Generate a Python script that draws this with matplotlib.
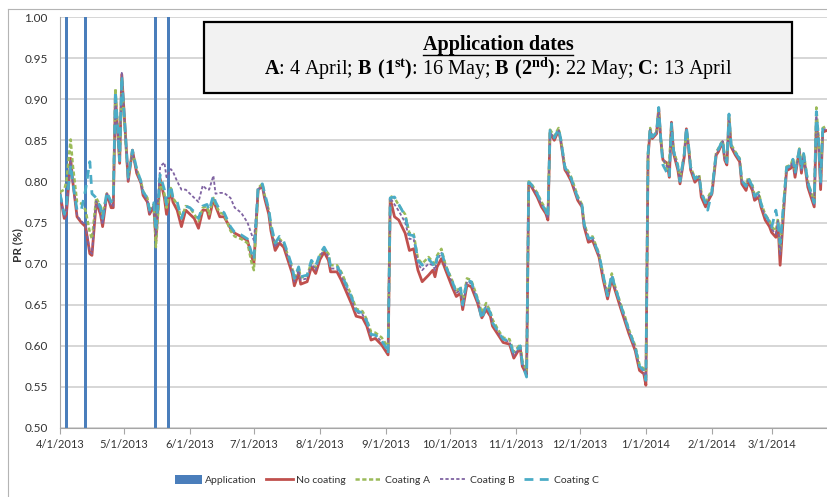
import numpy as np
import pandas as pd
import matplotlib
matplotlib.use("Agg")
import matplotlib.pyplot as plt
from matplotlib.patches import Rectangle
from matplotlib.lines import Line2D

plt.rcParams["font.family"] = ["Lato", "DejaVu Sans"]
plt.rcParams["mathtext.fontset"] = "custom"
plt.rcParams["mathtext.rm"] = "Liberation Serif"
plt.rcParams["mathtext.bf"] = "Liberation Serif:bold"

start = pd.Timestamp("2013-04-01")

# days since 1 April 2013
days = [
    0, 2, 3, 5, 6, 8, 10, 12, 14, 15,
    17, 19, 20, 22, 24, 25, 26, 28, 29, 31,
    32, 34, 36, 38, 39, 41, 42, 44, 45, 47,
    49, 50, 52, 53, 55, 57, 59, 61, 63, 65,
    67, 69, 70, 72, 73, 75, 77, 80, 82, 85,
    88, 90, 91, 93, 95, 96, 98, 99, 101, 103,
    105, 107, 109, 110, 112, 113, 116, 118, 120, 122,
    124, 126, 127, 130, 132, 134, 137, 139, 142, 144,
    146, 148, 151, 153, 154, 155, 157, 159, 162, 164,
    166, 168, 170, 173, 175, 176, 177, 179, 181, 184,
    186, 188, 189, 191, 193, 196, 198, 200, 202, 203,
    206, 208, 211, 213, 216, 217, 219, 220, 221, 224,
    226, 228, 229, 230, 232, 234, 235, 237, 238, 240,
    243, 245, 246, 248, 250, 253, 255, 257, 259, 260,
    263, 265, 267, 270, 272, 274, 275, 276, 277, 278,
    280, 281, 282, 283, 285, 286, 287, 288, 290, 291,
    293, 294, 295, 296, 298, 300, 301, 303, 304, 306,
    308, 309, 311, 312, 313, 314, 315, 317, 319, 320,
    322, 323, 325, 326, 328, 329, 331, 333, 334, 336,
    337, 338, 340, 341, 343, 344, 345, 347, 348, 349,
    351, 353, 354, 355, 356, 357, 358, 360,
]

no_coating = [
    0.785, 0.755, 0.760, 0.828, 0.800, 0.757, 0.750, 0.745, 0.712, 0.710,
    0.775, 0.760, 0.745, 0.785, 0.768, 0.768, 0.905, 0.822, 0.930, 0.845,
    0.800, 0.838, 0.810, 0.798, 0.783, 0.775, 0.760, 0.770, 0.728, 0.803,
    0.780, 0.760, 0.790, 0.775, 0.765, 0.745, 0.765, 0.760, 0.755, 0.743,
    0.765, 0.765, 0.755, 0.778, 0.770, 0.757, 0.757, 0.743, 0.737, 0.733,
    0.728, 0.708, 0.700, 0.790, 0.794, 0.780, 0.760, 0.740, 0.716, 0.725,
    0.720, 0.704, 0.688, 0.673, 0.688, 0.675, 0.678, 0.696, 0.688, 0.705,
    0.714, 0.704, 0.690, 0.690, 0.680, 0.668, 0.650, 0.636, 0.634, 0.624,
    0.607, 0.609, 0.601, 0.593, 0.589, 0.779, 0.757, 0.753, 0.737, 0.716,
    0.718, 0.692, 0.678, 0.686, 0.692, 0.684, 0.696, 0.706, 0.692, 0.672,
    0.660, 0.664, 0.644, 0.674, 0.672, 0.652, 0.634, 0.644, 0.636, 0.624,
    0.612, 0.604, 0.602, 0.585, 0.598, 0.575, 0.565, 0.797, 0.795, 0.781,
    0.769, 0.761, 0.753, 0.859, 0.850, 0.862, 0.850, 0.814, 0.810, 0.800,
    0.777, 0.769, 0.745, 0.726, 0.728, 0.708, 0.680, 0.657, 0.682, 0.672,
    0.647, 0.631, 0.615, 0.594, 0.570, 0.566, 0.552, 0.830, 0.862, 0.852,
    0.858, 0.889, 0.850, 0.826, 0.822, 0.805, 0.872, 0.834, 0.814, 0.797,
    0.830, 0.864, 0.842, 0.814, 0.799, 0.805, 0.781, 0.769, 0.775, 0.785,
    0.832, 0.836, 0.848, 0.826, 0.820, 0.878, 0.842, 0.832, 0.824, 0.797,
    0.789, 0.800, 0.789, 0.777, 0.781, 0.769, 0.753, 0.745, 0.738, 0.732,
    0.749, 0.698, 0.777, 0.813, 0.816, 0.824, 0.805, 0.838, 0.810, 0.832,
    0.793, 0.777, 0.769, 0.870, 0.850, 0.790, 0.860, 0.862,
]

coating_a = [
    0.787, 0.790, 0.800, 0.851, 0.820, 0.775, 0.773, 0.765, 0.738, 0.730,
    0.780, 0.770, 0.760, 0.785, 0.775, 0.778, 0.913, 0.825, 0.925, 0.840,
    0.805, 0.835, 0.815, 0.800, 0.788, 0.780, 0.765, 0.772, 0.720, 0.800,
    0.785, 0.768, 0.792, 0.780, 0.772, 0.755, 0.770, 0.768, 0.760, 0.752,
    0.768, 0.770, 0.760, 0.780, 0.772, 0.762, 0.760, 0.740, 0.733, 0.730,
    0.725, 0.700, 0.692, 0.792, 0.797, 0.784, 0.765, 0.745, 0.722, 0.730,
    0.725, 0.710, 0.695, 0.680, 0.695, 0.683, 0.685, 0.702, 0.695, 0.710,
    0.718, 0.712, 0.698, 0.698, 0.690, 0.678, 0.660, 0.645, 0.642, 0.632,
    0.617, 0.616, 0.610, 0.602, 0.596, 0.782, 0.780, 0.771, 0.760, 0.737,
    0.736, 0.706, 0.700, 0.708, 0.702, 0.698, 0.710, 0.718, 0.698, 0.680,
    0.666, 0.672, 0.652, 0.682, 0.680, 0.658, 0.640, 0.652, 0.642, 0.632,
    0.618, 0.610, 0.608, 0.592, 0.602, 0.582, 0.568, 0.800, 0.798, 0.786,
    0.775, 0.766, 0.758, 0.863, 0.855, 0.865, 0.853, 0.818, 0.815, 0.805,
    0.782, 0.772, 0.750, 0.732, 0.733, 0.712, 0.686, 0.662, 0.688, 0.677,
    0.652, 0.637, 0.620, 0.600, 0.577, 0.572, 0.560, 0.835, 0.865, 0.855,
    0.860, 0.887, 0.852, 0.828, 0.815, 0.826, 0.870, 0.838, 0.820, 0.802,
    0.834, 0.862, 0.845, 0.818, 0.804, 0.808, 0.787, 0.775, 0.780, 0.790,
    0.836, 0.840, 0.850, 0.830, 0.825, 0.880, 0.845, 0.836, 0.828, 0.802,
    0.795, 0.805, 0.795, 0.783, 0.787, 0.774, 0.760, 0.752, 0.745, 0.740,
    0.755, 0.715, 0.785, 0.818, 0.820, 0.828, 0.812, 0.840, 0.815, 0.835,
    0.800, 0.783, 0.775, 0.890, 0.855, 0.800, 0.865, 0.868,
]

coating_b = [
    0.783, 0.757, 0.762, 0.825, 0.798, 0.758, 0.752, 0.746, 0.715, 0.712,
    0.776, 0.762, 0.748, 0.785, 0.770, 0.770, 0.900, 0.825, 0.932, 0.842,
    0.802, 0.836, 0.812, 0.798, 0.785, 0.777, 0.762, 0.770, 0.735, 0.818,
    0.823, 0.805, 0.815, 0.812, 0.800, 0.790, 0.790, 0.785, 0.780, 0.775,
    0.795, 0.790, 0.790, 0.807, 0.785, 0.786, 0.786, 0.780, 0.768, 0.762,
    0.750, 0.735, 0.728, 0.790, 0.795, 0.782, 0.763, 0.743, 0.720, 0.728,
    0.724, 0.708, 0.692, 0.678, 0.692, 0.680, 0.682, 0.700, 0.692, 0.709,
    0.717, 0.708, 0.694, 0.694, 0.685, 0.673, 0.655, 0.641, 0.638, 0.628,
    0.612, 0.613, 0.605, 0.598, 0.592, 0.780, 0.772, 0.764, 0.750, 0.730,
    0.730, 0.700, 0.692, 0.700, 0.698, 0.692, 0.704, 0.713, 0.696, 0.677,
    0.664, 0.668, 0.648, 0.678, 0.676, 0.655, 0.637, 0.648, 0.639, 0.628,
    0.615, 0.607, 0.605, 0.588, 0.600, 0.578, 0.566, 0.798, 0.796, 0.783,
    0.772, 0.763, 0.755, 0.860, 0.852, 0.863, 0.851, 0.816, 0.812, 0.802,
    0.779, 0.771, 0.747, 0.729, 0.730, 0.710, 0.683, 0.660, 0.685, 0.675,
    0.650, 0.634, 0.618, 0.597, 0.573, 0.569, 0.556, 0.832, 0.863, 0.853,
    0.859, 0.888, 0.851, 0.827, 0.818, 0.815, 0.871, 0.836, 0.817, 0.800,
    0.832, 0.863, 0.843, 0.816, 0.802, 0.806, 0.784, 0.772, 0.778, 0.787,
    0.834, 0.838, 0.849, 0.828, 0.822, 0.879, 0.843, 0.834, 0.826, 0.800,
    0.792, 0.802, 0.792, 0.780, 0.784, 0.772, 0.757, 0.749, 0.742, 0.736,
    0.752, 0.710, 0.781, 0.815, 0.818, 0.826, 0.808, 0.839, 0.812, 0.833,
    0.797, 0.780, 0.772, 0.880, 0.852, 0.795, 0.862, 0.865,
]

coating_c = [
    0.785, 0.760, 0.770, 0.820, 0.798, 0.765, 0.765, 0.790, 0.824, 0.785,
    0.780, 0.768, 0.755, 0.787, 0.775, 0.778, 0.910, 0.825, 0.928, 0.845,
    0.805, 0.838, 0.815, 0.800, 0.787, 0.780, 0.765, 0.774, 0.740, 0.808,
    0.790, 0.772, 0.795, 0.780, 0.775, 0.755, 0.770, 0.768, 0.763, 0.755,
    0.770, 0.772, 0.765, 0.783, 0.775, 0.765, 0.762, 0.745, 0.738, 0.735,
    0.730, 0.712, 0.705, 0.795, 0.797, 0.786, 0.766, 0.748, 0.725, 0.733,
    0.727, 0.712, 0.696, 0.682, 0.696, 0.684, 0.686, 0.704, 0.697, 0.712,
    0.720, 0.710, 0.697, 0.697, 0.688, 0.676, 0.658, 0.643, 0.640, 0.630,
    0.614, 0.613, 0.606, 0.598, 0.590, 0.780, 0.781, 0.772, 0.758, 0.735,
    0.734, 0.704, 0.698, 0.705, 0.700, 0.695, 0.707, 0.715, 0.697, 0.679,
    0.665, 0.670, 0.650, 0.680, 0.678, 0.656, 0.632, 0.650, 0.640, 0.628,
    0.616, 0.608, 0.606, 0.590, 0.600, 0.578, 0.562, 0.799, 0.797, 0.785,
    0.773, 0.764, 0.756, 0.862, 0.853, 0.864, 0.852, 0.817, 0.813, 0.803,
    0.780, 0.771, 0.748, 0.731, 0.731, 0.711, 0.685, 0.661, 0.687, 0.676,
    0.651, 0.635, 0.619, 0.598, 0.575, 0.570, 0.558, 0.833, 0.864, 0.854,
    0.860, 0.890, 0.851, 0.820, 0.810, 0.805, 0.870, 0.837, 0.818, 0.800,
    0.833, 0.866, 0.844, 0.817, 0.803, 0.807, 0.786, 0.774, 0.765, 0.788,
    0.835, 0.839, 0.850, 0.829, 0.823, 0.882, 0.844, 0.835, 0.827, 0.801,
    0.794, 0.804, 0.794, 0.782, 0.786, 0.773, 0.759, 0.751, 0.744, 0.765,
    0.750, 0.725, 0.783, 0.817, 0.819, 0.827, 0.810, 0.839, 0.814, 0.834,
    0.799, 0.782, 0.774, 0.885, 0.853, 0.798, 0.864, 0.867,
]

app_dates = ["2013-04-04", "2013-04-13", "2013-05-16", "2013-05-22"]
app_level = [1.0, 1.0, 1.0, 1.0]

dates = start + pd.to_timedelta(days, unit="D")
month_ticks = pd.date_range("2013-04-01", "2014-03-01", freq="MS")

W, H = 827, 497
fig = plt.figure(figsize=(W / 100, H / 100), dpi=100)
ax = fig.add_axes([60 / W, 1 - 428 / H, 767 / W, 411 / H])

ax.bar(pd.to_datetime(app_dates), app_level, width=1.4, color="#4a7ebb",
       zorder=2, label="Application")
ax.plot(dates, no_coating, color="#c0504d", lw=2.0, zorder=3, label="No coating")
ax.plot(dates, coating_a, color="#9bbb59", lw=1.8, ls=(0, (1.7, 1.0)),
        zorder=4, label="Coating A")
ax.plot(dates, coating_b, color="#8064a2", lw=1.3, ls=(0, (1.8, 1.2)),
        zorder=5, label="Coating B")
ax.plot(dates, coating_c, color="#4bacc6", lw=2.0, ls=(0, (3.2, 2.3)),
        zorder=6, label="Coating C")

ax.set_ylim(0.5, 1.0)
ax.set_yticks(np.arange(0.5, 1.001, 0.05))
ax.set_yticklabels([f"{v:.2f}" for v in np.arange(0.5, 1.001, 0.05)])
ax.set_xlim(start, start + pd.Timedelta(days=360))
ax.set_xticks(month_ticks)
ax.set_xticklabels([f"{d.month}/{d.day}/{d.year}" for d in month_ticks])

ax.yaxis.grid(True, color="#d0d0d0", lw=1.2)
ax.set_axisbelow(True)
for s in ["top", "right"]:
    ax.spines[s].set_visible(False)
for s in ["left", "bottom"]:
    ax.spines[s].set_color("#a6a6a6")
ax.tick_params(axis="y", length=0, pad=9, labelsize=8.5, labelcolor="#333333")
ax.tick_params(axis="x", length=4, color="#a6a6a6", pad=4, labelsize=8,
               labelcolor="#333333")

fig.text(18 / W, 1 - 245 / H, "PR (%)", rotation=90, ha="center", va="center",
         fontsize=8.5, fontweight="bold", color="#333333")

# outer chart frame (left and top edges)
fig.add_artist(Line2D([8 / W, 8 / W], [0, 1 - 9 / H], color="#b4b4b4", lw=0.8))
fig.add_artist(Line2D([8 / W, 1], [1 - 9 / H, 1 - 9 / H], color="#b4b4b4", lw=0.8))

# application dates box
fig.add_artist(Rectangle((204 / W, 1 - 93 / H), 588 / W, 71 / H,
                         facecolor="#f2f2f2", edgecolor="black", lw=1.6, zorder=10))
title = fig.text(498 / W, 1 - 45 / H, "Application dates", ha="center", va="center",
                 family="Liberation Serif", fontweight="bold", fontsize=14.5, zorder=11)
fig.text(498 / W, 1 - 69 / H,
         r"$\mathbf{A}$: 4 April; $\mathbf{B\ (1^{st})}$: 16 May; "
         r"$\mathbf{B\ (2^{nd})}$: 22 May; $\mathbf{C}$: 13 April",
         ha="center", va="center", family="Liberation Serif", fontsize=14.5, zorder=11)

fig.canvas.draw()
bb = title.get_window_extent(fig.canvas.get_renderer())
uy = (bb.y0 + 0.5) / fig.bbox.height
fig.add_artist(Line2D([bb.x0 / fig.bbox.width, bb.x1 / fig.bbox.width], [uy, uy],
                      color="black", lw=1.0, zorder=11))

handles, labels = ax.get_legend_handles_labels()
order = [labels.index(n) for n in ["Application", "No coating", "Coating A", "Coating B", "Coating C"]]
fig.legend([handles[i] for i in order], [labels[i] for i in order],
           loc="center", bbox_to_anchor=(387 / W, 1 - 480 / H), ncol=5,
           frameon=False, fontsize=7.5, handlelength=2.6, handleheight=1.0,
           handletextpad=0.3, columnspacing=0.9, labelcolor="#333333")

fig.savefig("out.png", dpi=100)
